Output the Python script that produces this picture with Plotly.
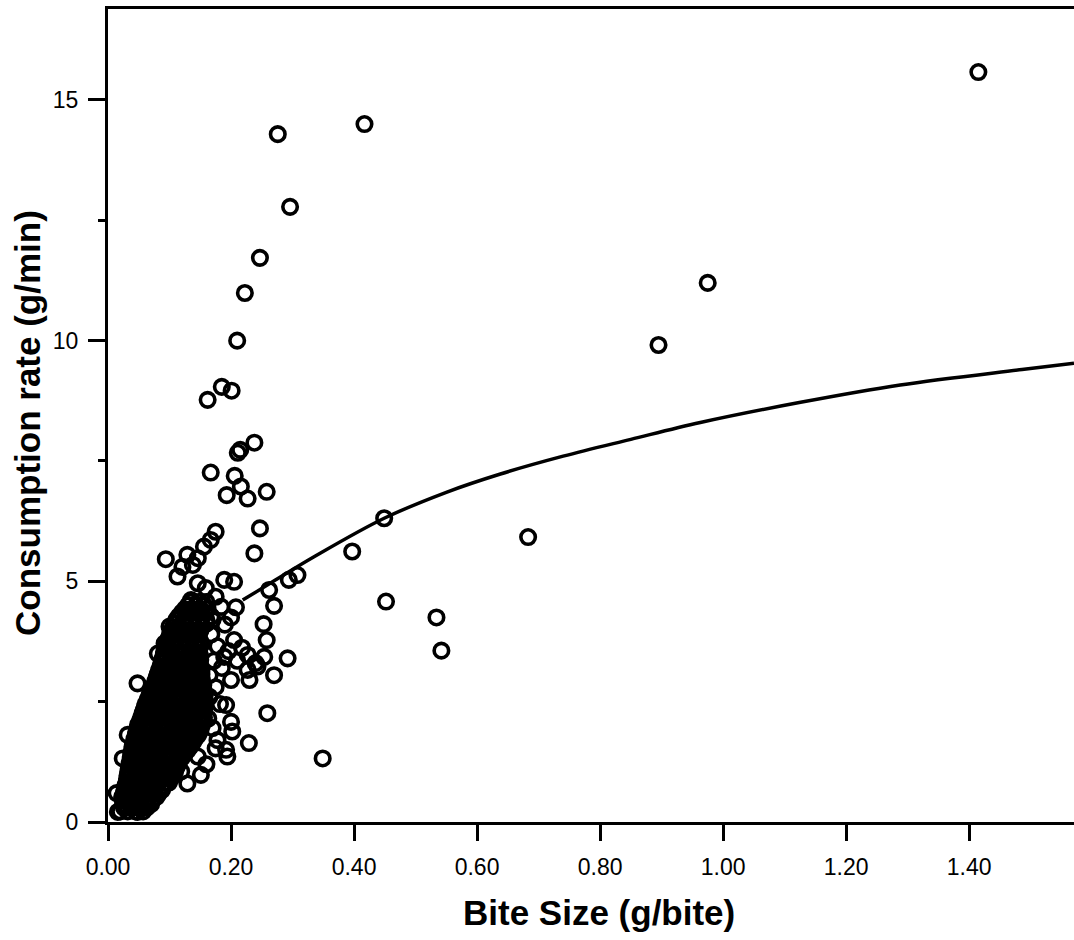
import plotly.graph_objects as go

# Dense cluster of small-bite observations: consumption rate (g/min) per row,
# with the bite sizes (g/bite) observed at that rate.
cluster_rate = [0.22, 0.30, 0.37, 0.45, 0.52, 0.60, 0.67, 0.75, 0.82, 0.90,
                0.97, 1.05, 1.12, 1.20, 1.27, 1.35, 1.42, 1.50, 1.57, 1.65,
                1.72, 1.80, 1.87, 1.95, 2.02, 2.10, 2.17, 2.25, 2.32, 2.40,
                2.47, 2.55, 2.62, 2.70, 2.77, 2.85, 2.92, 3.00, 3.07, 3.15,
                3.22, 3.30, 3.37, 3.45, 3.52, 3.60, 3.67, 3.75, 3.82, 3.90,
                3.97, 4.05, 4.12, 4.20, 4.27, 4.35, 4.42, 4.50, 4.57]
cluster_bites = [
    [0.020, 0.032, 0.045, 0.057],
    [0.026, 0.038, 0.051, 0.063],
    [0.025, 0.038, 0.050, 0.062, 0.070],
    [0.024, 0.036, 0.048, 0.060, 0.072],
    [0.023, 0.031, 0.043, 0.056, 0.068, 0.079],
    [0.026, 0.038, 0.050, 0.062, 0.075, 0.083],
    [0.027, 0.037, 0.049, 0.061, 0.074, 0.088],
    [0.028, 0.041, 0.053, 0.065, 0.077, 0.090],
    [0.030, 0.043, 0.055, 0.067, 0.080, 0.092, 0.099],
    [0.031, 0.044, 0.056, 0.068, 0.080, 0.092, 0.102],
    [0.032, 0.038, 0.050, 0.062, 0.074, 0.086, 0.098, 0.106],
    [0.033, 0.044, 0.056, 0.068, 0.080, 0.092, 0.104, 0.109],
    [0.034, 0.045, 0.057, 0.069, 0.081, 0.093, 0.104, 0.111],
    [0.035, 0.046, 0.058, 0.070, 0.082, 0.093, 0.105, 0.114],
    [0.036, 0.040, 0.052, 0.064, 0.076, 0.087, 0.099, 0.110, 0.116],
    [0.037, 0.046, 0.058, 0.070, 0.082, 0.094, 0.106, 0.117, 0.121],
    [0.038, 0.047, 0.058, 0.070, 0.082, 0.094, 0.106, 0.118, 0.125],
    [0.039, 0.050, 0.062, 0.074, 0.086, 0.098, 0.110, 0.121, 0.130],
    [0.040, 0.053, 0.064, 0.076, 0.088, 0.100, 0.112, 0.124, 0.134],
    [0.042, 0.058, 0.070, 0.082, 0.094, 0.106, 0.118, 0.130, 0.138],
    [0.043, 0.047, 0.059, 0.071, 0.083, 0.095, 0.107, 0.119, 0.131, 0.141],
    [0.045, 0.053, 0.065, 0.077, 0.089, 0.101, 0.113, 0.125, 0.137, 0.146],
    [0.046, 0.054, 0.066, 0.078, 0.090, 0.102, 0.113, 0.125, 0.137, 0.149],
    [0.048, 0.060, 0.072, 0.084, 0.096, 0.108, 0.119, 0.131, 0.143, 0.151],
    [0.049, 0.060, 0.072, 0.084, 0.096, 0.108, 0.119, 0.131, 0.143, 0.153],
    [0.052, 0.066, 0.078, 0.090, 0.102, 0.114, 0.125, 0.137, 0.149, 0.155],
    [0.054, 0.066, 0.078, 0.090, 0.102, 0.114, 0.126, 0.137, 0.149, 0.156],
    [0.056, 0.060, 0.072, 0.084, 0.096, 0.108, 0.120, 0.131, 0.143, 0.155],
    [0.058, 0.072, 0.084, 0.096, 0.108, 0.120, 0.132, 0.144, 0.156],
    [0.060, 0.066, 0.078, 0.090, 0.102, 0.114, 0.126, 0.138, 0.150, 0.157],
    [0.062, 0.068, 0.079, 0.091, 0.103, 0.115, 0.127, 0.139, 0.150, 0.157],
    [0.065, 0.074, 0.085, 0.097, 0.109, 0.121, 0.133, 0.145, 0.156],
    [0.067, 0.074, 0.086, 0.097, 0.109, 0.121, 0.133, 0.145, 0.157],
    [0.069, 0.080, 0.092, 0.103, 0.115, 0.127, 0.139, 0.151],
    [0.072, 0.081, 0.092, 0.104, 0.116, 0.128, 0.140, 0.151, 0.155],
    [0.075, 0.086, 0.098, 0.110, 0.122, 0.134, 0.146, 0.155],
    [0.077, 0.087, 0.099, 0.110, 0.122, 0.134, 0.146, 0.153],
    [0.079, 0.093, 0.104, 0.116, 0.128, 0.140, 0.152],
    [0.081, 0.093, 0.105, 0.117, 0.129, 0.141, 0.152],
    [0.083, 0.087, 0.099, 0.111, 0.123, 0.135, 0.147, 0.152],
    [0.085, 0.099, 0.111, 0.123, 0.135, 0.146, 0.150],
    [0.087, 0.100, 0.112, 0.124, 0.135, 0.147],
    [0.088, 0.094, 0.106, 0.118, 0.129, 0.141, 0.150],
    [0.090, 0.106, 0.118, 0.130, 0.142, 0.150],
    [0.091, 0.100, 0.112, 0.124, 0.136, 0.148],
    [0.093, 0.100, 0.112, 0.124, 0.136, 0.148],
    [0.095, 0.106, 0.118, 0.130, 0.142, 0.151],
    [0.097, 0.106, 0.118, 0.130, 0.142, 0.150],
    [0.099, 0.112, 0.124, 0.136, 0.147],
    [0.101, 0.112, 0.124, 0.136, 0.148],
    [0.103, 0.117, 0.129, 0.141, 0.150],
    [0.106, 0.117, 0.129, 0.141, 0.153],
    [0.108, 0.122, 0.135, 0.147, 0.160],
    [0.111, 0.123, 0.135, 0.147, 0.160],
    [0.115, 0.128, 0.141, 0.154, 0.168],
    [0.120, 0.132, 0.145, 0.158],
    [0.125, 0.137, 0.149, 0.162],
    [0.130, 0.143, 0.155],
    [0.135, 0.147, 0.160],
]

# Individually distinguishable observations around and beyond the cluster
scatter_bite = [1.415, 0.417, 0.276, 0.296, 0.247, 0.2225, 0.210, 0.975, 0.895,
                0.162, 0.185, 0.201, 0.238, 0.215, 0.211, 0.167, 0.206, 0.216,
                0.193, 0.227, 0.258, 0.247, 0.238, 0.683, 0.397, 0.449, 0.452,
                0.534, 0.542, 0.349,
                0.175, 0.167, 0.156, 0.094, 0.129, 0.146, 0.121, 0.113, 0.138,
                0.189, 0.205, 0.146, 0.159, 0.175, 0.208, 0.135, 0.184, 0.262,
                0.270, 0.294, 0.308, 0.253, 0.258, 0.292, 0.254, 0.227, 0.205,
                0.189, 0.100, 0.092, 0.081,
                0.259, 0.229, 0.192, 0.202, 0.200, 0.194, 0.192, 0.151, 0.129,
                0.270, 0.048, 0.032, 0.024, 0.014, 0.016, 0.048, 0.064, 0.146,
                0.178, 0.175, 0.119, 0.243, 0.227,
                0.165, 0.172, 0.178, 0.168, 0.185, 0.196, 0.210, 0.218, 0.240,
                0.230, 0.200, 0.175, 0.165, 0.182, 0.170, 0.190, 0.200, 0.163,
                0.170, 0.160]
scatter_rate = [15.58, 14.50, 14.29, 12.78, 11.72, 10.99, 10.00, 11.20, 9.91,
                8.77, 9.04, 8.96, 7.88, 7.73, 7.67, 7.26, 7.19, 6.97,
                6.79, 6.72, 6.86, 6.10, 5.58, 5.92, 5.62, 6.31, 4.58,
                4.25, 3.56, 1.32,
                6.03, 5.86, 5.72, 5.46, 5.55, 5.48, 5.30, 5.10, 5.34,
                5.03, 4.99, 4.96, 4.86, 4.68, 4.46, 4.61, 4.47, 4.82,
                4.49, 5.03, 5.13, 4.11, 3.78, 3.40, 3.43, 3.47, 3.78,
                3.43, 4.06, 3.71, 3.50,
                2.26, 1.64, 2.43, 1.88, 2.08, 1.36, 1.50, 0.98, 0.80,
                3.05, 2.88, 1.81, 1.32, 0.60, 0.21, 0.21, 0.32, 1.36,
                1.70, 1.53, 1.05, 3.23, 3.16,
                3.05, 3.35, 3.65, 3.90, 3.20, 3.55, 3.35, 3.62, 3.30,
                2.95, 2.95, 2.80, 2.60, 2.45, 4.20, 4.10, 4.25, 2.15,
                1.95, 1.20]

# Fitted relationship between bite size and consumption rate
fit_bite = [0.219, 0.265, 0.335, 0.449, 0.550, 0.638, 0.740, 0.850, 0.963,
            1.126, 1.288, 1.486, 1.5705]
fit_rate = [4.61, 4.97, 5.51, 6.31, 6.85, 7.23, 7.60, 7.95, 8.30,
            8.72, 9.08, 9.40, 9.53]

x_ticks = [0.0, 0.2, 0.4, 0.6, 0.8, 1.0, 1.2, 1.4]
x_tick_text = ["0.00", "0.20", "0.40", "0.60", "0.80", "1.00", "1.20", "1.40"]
y_ticks = [0, 5, 10, 15]
y_minor_ticks = [2.5, 7.5, 12.5]

all_bite = []
all_rate = []
for rate, bites in zip(cluster_rate, cluster_bites):
    all_bite.extend(bites)
    all_rate.extend([rate] * len(bites))
all_bite.extend(scatter_bite)
all_rate.extend(scatter_rate)

FONT = "Arial, Liberation Sans, Helvetica, sans-serif"

fig = go.Figure()
fig.add_trace(go.Scatter(
    x=all_bite, y=all_rate, mode="markers",
    marker=dict(symbol="circle-open", size=14.5, color="black",
                line=dict(width=3.6, color="black")),
    cliponaxis=False, showlegend=False, hoverinfo="skip",
))
fig.add_trace(go.Scatter(
    x=fit_bite, y=fit_rate, mode="lines",
    line=dict(color="black", width=3.5, shape="spline", smoothing=1.0),
    showlegend=False, hoverinfo="skip",
))

axis_common = dict(
    showline=True, linecolor="black", linewidth=3,
    ticks="outside", tickcolor="black", tickwidth=3,
    showgrid=False, zeroline=False,
    tickfont=dict(family=FONT, size=23, color="black"),
)

fig.update_layout(
    width=1074, height=940,
    margin=dict(l=108, r=0, t=9, b=118),
    paper_bgcolor="white", plot_bgcolor="white",
    xaxis=dict(range=[0, 1.5705], tickmode="array", tickvals=x_ticks,
               ticktext=x_tick_text, ticklen=16, mirror=True,
               ticklabelstandoff=6, **axis_common),
    yaxis=dict(range=[0, 16.89], tickmode="array", tickvals=y_ticks,
               ticklen=17, ticklabelstandoff=5,
               minor=dict(tickmode="array", tickvals=y_minor_ticks, ticks="outside",
                          ticklen=7, tickwidth=3, tickcolor="black"),
               **axis_common),
    annotations=[
        dict(text="<b>Consumption rate (g/min)</b>", textangle=-90,
             xref="paper", yref="paper", x=0, y=0.4908, xshift=-80,
             xanchor="center", yanchor="middle", showarrow=False,
             font=dict(family=FONT, size=35, color="black")),
        dict(text="<b>Bite Size (g/bite)</b>",
             xref="paper", yref="paper", x=0.5078, y=0, yshift=-90,
             xanchor="center", yanchor="middle", showarrow=False,
             font=dict(family=FONT, size=35, color="black")),
    ],
)

fig.write_html("out.html")
